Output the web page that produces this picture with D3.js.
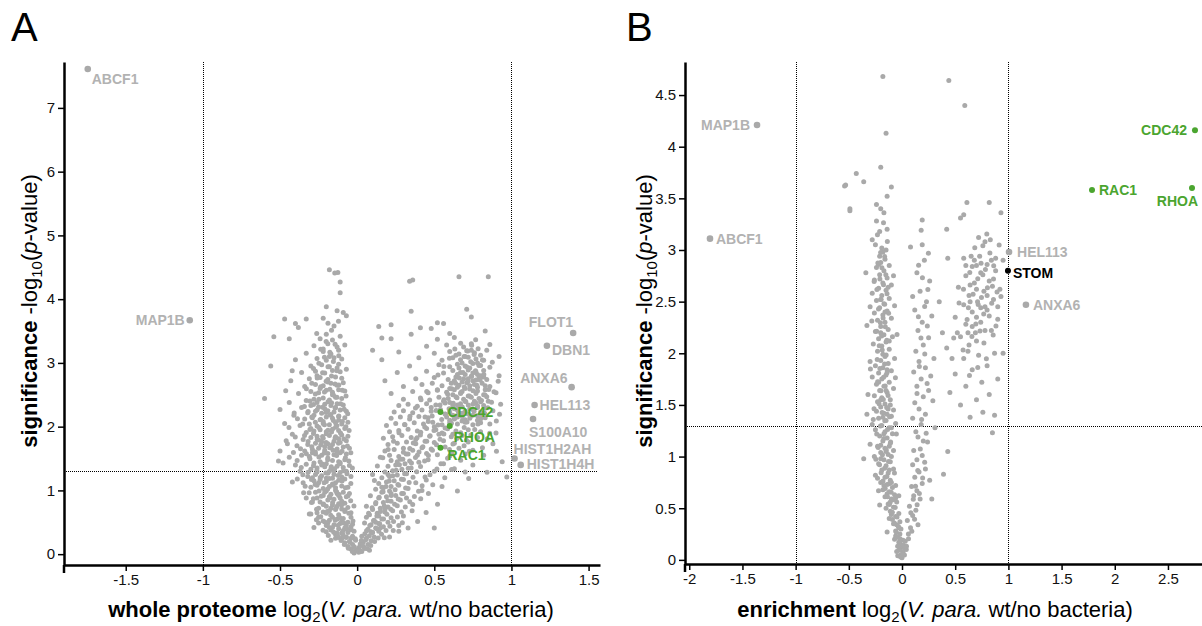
<!DOCTYPE html>
<html>
<head>
<meta charset="utf-8">
<script src="https://cdn.jsdelivr.net/npm/d3@7"></script>
<style>
  body { margin: 0; background: #fff; }
  svg text { font-family: "Liberation Sans", Arial, Helvetica, sans-serif; }
</style>
</head>
<body>
<svg id="chart" width="1202" height="626"></svg>
<script>
// ---------- thresholds ----------
const foldCut = [-1, 1];        // log2 fold change cut-offs
const pCut = 1.3;               // -log10(0.05)

// ---------- panel A: whole proteome (log2 FC, -log10 p) ----------
const proteomeLeft = [
  [-0.02,0.02],[0.0,0.05],[-0.04,0.08],[0.01,0.1],[-0.06,0.12],[-0.03,0.15],[0.02,0.16],[-0.08,0.18],[-0.05,0.2],[-0.01,0.22],
  [-0.1,0.24],[-0.07,0.27],[-0.03,0.28],[0.01,0.03],[-0.01,0.07],[-0.09,0.29],[-0.12,0.26],[-0.04,0.25],[-0.17,0.22],[-0.14,0.25],
  [-0.14,0.31],[-0.1,0.33],[-0.06,0.34],[-0.02,0.36],[-0.17,0.38],[-0.12,0.4],[-0.08,0.41],[-0.04,0.43],[-0.2,0.45],[-0.15,0.46],
  [-0.11,0.48],[-0.06,0.5],[-0.22,0.52],[-0.18,0.53],[-0.13,0.55],[-0.09,0.56],[-0.04,0.58],[-0.25,0.58],[-0.28,0.42],[-0.2,0.35],
  [-0.03,0.47],[-0.25,0.49],[-0.31,0.63],
  [-0.3,0.63],[-0.26,0.65],[-0.22,0.66],[-0.18,0.68],[-0.14,0.7],[-0.1,0.71],[-0.06,0.73],[-0.2,0.75],[-0.16,0.77],[-0.12,0.79],
  [-0.08,0.8],[-0.24,0.82],[-0.29,0.82],[-0.19,0.85],[-0.15,0.86],[-0.11,0.88],[-0.07,0.9],[-0.22,0.92],[-0.17,0.94],[-0.13,0.95],
  [-0.09,0.97],[-0.27,0.97],[-0.2,0.99],[-0.14,1.0],[-0.05,0.95],[-0.33,0.88],[-0.25,0.72],[-0.04,0.65],
  [-0.42,1.13],[-0.35,1.12],[-0.3,1.05],[-0.26,1.08],[-0.22,1.03],[-0.18,1.06],[-0.14,1.04],[-0.1,1.07],[-0.06,1.05],[-0.28,1.15],
  [-0.24,1.17],[-0.2,1.14],[-0.16,1.19],[-0.12,1.16],[-0.08,1.18],[-0.32,1.22],[-0.27,1.25],[-0.23,1.23],[-0.19,1.27],[-0.15,1.25],
  [-0.11,1.28],[-0.07,1.3],[-0.37,1.3],[-0.3,1.33],[-0.26,1.35],[-0.21,1.37],[-0.17,1.34],[-0.13,1.38],[-0.09,1.36],[-0.05,1.39],
  [-0.33,1.41],[-0.28,1.43],[-0.24,1.45],[-0.2,1.42],[-0.16,1.47],[-0.12,1.45],[-0.08,1.48],[-0.51,1.46],[-0.48,1.43],[-0.4,1.4],
  [-0.04,1.22],[-0.14,1.12],[-0.29,1.2],[-0.18,1.3],
  [-0.44,1.52],[-0.36,1.55],[-0.31,1.53],[-0.27,1.57],[-0.23,1.55],[-0.19,1.58],[-0.15,1.56],[-0.11,1.59],[-0.07,1.57],[-0.34,1.62],
  [-0.29,1.64],[-0.25,1.66],[-0.21,1.63],[-0.17,1.67],[-0.13,1.65],[-0.09,1.68],[-0.05,1.66],[-0.39,1.7],[-0.32,1.72],[-0.27,1.74],
  [-0.23,1.76],[-0.19,1.73],[-0.15,1.77],[-0.11,1.75],[-0.07,1.78],[-0.35,1.8],[-0.3,1.83],[-0.26,1.85],[-0.22,1.82],[-0.18,1.86],
  [-0.14,1.84],[-0.1,1.87],[-0.06,1.85],[-0.42,1.88],[-0.33,1.91],[-0.28,1.93],[-0.24,1.95],[-0.2,1.92],[-0.16,1.96],[-0.12,1.94],
  [-0.08,1.97],[-0.46,1.78],[-0.5,1.62],
  [-0.37,2.02],[-0.31,2.04],[-0.26,2.01],[-0.22,2.05],[-0.18,2.03],[-0.14,2.06],[-0.1,2.04],[-0.06,2.07],[-0.34,2.12],[-0.29,2.14],
  [-0.24,2.11],[-0.2,2.15],[-0.16,2.13],[-0.12,2.16],[-0.08,2.14],[-0.41,2.18],[-0.32,2.22],[-0.27,2.24],[-0.23,2.21],[-0.19,2.25],
  [-0.15,2.23],[-0.11,2.26],[-0.07,2.24],[-0.36,2.3],[-0.3,2.33],[-0.25,2.31],[-0.21,2.35],[-0.17,2.33],[-0.13,2.36],[-0.09,2.34],
  [-0.44,2.38],[-0.33,2.41],[-0.28,2.43],[-0.22,2.45],[-0.18,2.42],[-0.14,2.46],[-0.1,2.44],[-0.6,2.44],[-0.5,2.27],[-0.47,2.05],
  [-0.38,2.52],[-0.3,2.55],[-0.25,2.53],[-0.2,2.57],[-0.16,2.54],[-0.12,2.58],[-0.08,2.56],[-0.34,2.63],[-0.27,2.66],[-0.22,2.64],
  [-0.17,2.68],[-0.13,2.65],[-0.09,2.69],[-0.43,2.72],[-0.31,2.75],[-0.24,2.77],[-0.19,2.74],[-0.14,2.78],[-0.1,2.76],[-0.36,2.85],
  [-0.27,2.87],[-0.21,2.84],[-0.16,2.88],[-0.11,2.86],[-0.56,2.95],[-0.3,2.95],[-0.23,2.97],[-0.18,2.94],[-0.12,2.98],[-0.07,2.9],
  [-0.4,3.05],[-0.26,3.07],[-0.2,3.04],[-0.15,3.08],[-0.1,3.06],[-0.33,3.15],[-0.22,3.18],[-0.17,3.14],[-0.12,3.2],[-0.28,3.27],
  [-0.19,3.3],[-0.13,3.25],[-0.08,3.28],[-0.24,3.38],[-0.16,3.36],[-0.11,3.42],[-0.54,3.41],[-0.44,3.38],[-0.2,3.45],
  [-0.47,3.69],[-0.4,3.62],[-0.33,3.69],[-0.22,3.7],[-0.2,3.88],[-0.13,3.82],[-0.09,3.79],[-0.07,3.74],[-0.15,3.58],[-0.11,4.1],
  [-0.11,4.27],[-0.18,4.46],[-0.145,4.41],[-0.125,4.42]
];

const proteomeLeftCore = [
  [-0.13,0.33],[-0.09,0.37],[-0.16,0.42],[-0.07,0.45],[-0.19,0.49],[-0.1,0.52],[-0.16,0.58],[-0.12,0.62],[-0.2,0.64],[-0.08,0.67],
  [-0.17,0.72],[-0.13,0.75],[-0.22,0.78],[-0.1,0.83],[-0.18,0.9],[-0.26,0.88],[-0.12,0.92],[-0.21,0.97],[-0.16,1.1],[-0.25,1.12],
  [-0.2,1.19],[-0.1,1.21],[-0.26,1.29],[-0.15,1.31],[-0.23,1.4],[-0.11,1.42],[-0.19,1.51],[-0.29,1.59],[-0.13,1.61],[-0.21,1.69],
  [-0.16,1.72],[-0.25,1.79],[-0.12,1.81],[-0.2,1.89],[-0.3,1.97],[-0.14,1.99],[-0.22,2.08],[-0.12,2.1],[-0.28,2.18],[-0.17,2.19],
  [-0.21,2.28],[-0.14,2.3],[-0.26,2.38],[-0.16,2.5],[-0.24,2.6],[-0.19,2.7],[-0.26,2.8],[-0.13,2.92],[-0.18,3.1],[-0.22,3.22],
  [-0.031,0.043],[-0.057,0.091],[0.012,0.067],[-0.083,0.152],[-0.019,0.118],[-0.104,0.213],[-0.046,0.187],[-0.128,0.296],[-0.071,0.262],[-0.012,0.241],
  [-0.152,0.342],[-0.094,0.318],[-0.038,0.384],[-0.181,0.417],[-0.123,0.452],[-0.067,0.398],[-0.209,0.506],[-0.142,0.531],[-0.086,0.489],[-0.027,0.522],
  [-0.236,0.587],[-0.171,0.612],[-0.113,0.574],[-0.054,0.641],[-0.263,0.703],[-0.194,0.668],[-0.137,0.721],[-0.078,0.694],[-0.021,0.756],[-0.218,0.786],
  [-0.159,0.812],[-0.101,0.773],[-0.042,0.839],[-0.284,0.871],[-0.233,0.907],[-0.176,0.884],[-0.117,0.936],[-0.059,0.918],[-0.311,0.962],[-0.247,0.991],
  [-0.191,1.024],[-0.133,0.978],[-0.076,1.043],[-0.337,1.067],[-0.272,1.094],[-0.214,1.121],[-0.157,1.083],[-0.098,1.146],[-0.041,1.109],[-0.296,1.172],
  [-0.239,1.203],[-0.181,1.186],[-0.123,1.234],[-0.066,1.261],[-0.352,1.247],[-0.318,1.286],[-0.261,1.312],[-0.203,1.274],[-0.146,1.339],[-0.088,1.307],
  [-0.031,1.352],[-0.283,1.386],[-0.226,1.414],[-0.168,1.371],[-0.111,1.437],[-0.054,1.462],[-0.389,1.468],[-0.306,1.497],[-0.248,1.523],[-0.191,1.482],
  [-0.133,1.548],[-0.076,1.512],[-0.329,1.574],[-0.271,1.603],[-0.213,1.587],[-0.156,1.631],[-0.098,1.614],[-0.041,1.592],[-0.367,1.654],[-0.294,1.683],
  [-0.236,1.712],[-0.178,1.668],[-0.121,1.741],[-0.063,1.697],[-0.318,1.768],[-0.259,1.797],[-0.201,1.753],[-0.143,1.824],[-0.086,1.806],[-0.401,1.836],
  [-0.341,1.862],[-0.283,1.891],[-0.224,1.847],[-0.166,1.918],[-0.108,1.902],[-0.052,1.938],[-0.306,1.957],[-0.248,1.986],[-0.189,1.943],[-0.131,2.014],
  [-0.073,1.997],[-0.353,2.043],[-0.271,2.071],[-0.212,2.028],[-0.154,2.098],[-0.096,2.082],[-0.387,2.126],[-0.294,2.153],[-0.236,2.114],[-0.177,2.183],
  [-0.119,2.167],[-0.061,2.204],[-0.318,2.236],[-0.259,2.264],[-0.201,2.221],[-0.143,2.291],[-0.084,2.275],[-0.342,2.318],[-0.283,2.347],[-0.224,2.306],
  [-0.166,2.374],[-0.107,2.358],[-0.306,2.402],[-0.248,2.431],[-0.189,2.389],[-0.131,2.461],[-0.072,2.482],[-0.271,2.513],[-0.212,2.544],[-0.154,2.498],
  [-0.096,2.572],[-0.329,2.596],[-0.236,2.627],[-0.177,2.586],[-0.119,2.653],[-0.294,2.681],[-0.201,2.712],[-0.143,2.668],[-0.259,2.763],[-0.166,2.794],
  [-0.224,2.846],[-0.131,2.878],[-0.283,2.912],[-0.189,2.941],[-0.248,2.993],[-0.154,3.024],[-0.212,3.087],[-0.119,3.112],[-0.177,3.168],[-0.236,3.214],
  [-0.143,3.291],[-0.201,3.337],[-0.262,3.462],[-0.166,3.514],[-0.121,3.652],[-0.189,3.623],[-0.381,3.554],[-0.421,2.876],[-0.463,2.563],[-0.408,2.214],
  [-0.442,1.986],[-0.452,1.731],[-0.413,1.593],[-0.362,1.361],[-0.388,1.178],[-0.347,0.962],[-0.296,0.812],[-0.264,0.541],[-0.187,0.293],[-0.221,0.374]
];

const proteomeRight = [
  [0.03,0.04],[0.05,0.09],[0.02,0.13],[0.07,0.15],[0.04,0.19],[0.09,0.21],[0.06,0.25],[0.11,0.27],[0.03,0.28],[0.08,0.06],
  [0.21,0.27],[0.27,0.36],[0.33,0.41],[0.15,0.41],
  [0.05,0.32],[0.1,0.34],[0.14,0.36],[0.07,0.39],[0.12,0.41],[0.17,0.43],[0.09,0.46],[0.14,0.48],[0.2,0.5],[0.11,0.53],
  [0.16,0.55],[0.22,0.57],[0.27,0.45],[0.5,0.41],[0.3,0.6],[0.06,0.58],
  [0.08,0.62],[0.13,0.64],[0.18,0.66],[0.23,0.68],[0.1,0.7],[0.15,0.72],[0.2,0.74],[0.26,0.76],[0.12,0.79],[0.17,0.81],
  [0.22,0.83],[0.28,0.85],[0.32,0.88],[0.14,0.88],[0.19,0.9],[0.25,0.92],[0.3,0.95],[0.16,0.97],[0.21,0.99],[0.36,0.78],
  [0.42,1.0],[0.06,0.75],
  [0.12,1.02],[0.17,1.04],[0.22,1.06],[0.27,1.08],[0.33,1.03],[0.14,1.11],[0.19,1.13],[0.24,1.15],[0.3,1.17],[0.38,1.12],
  [0.16,1.2],[0.21,1.22],[0.26,1.24],[0.32,1.26],[0.44,1.21],[0.18,1.29],[0.23,1.31],[0.29,1.33],[0.35,1.35],[0.5,1.3],
  [0.2,1.38],[0.25,1.4],[0.31,1.42],[0.4,1.44],[0.56,1.42],[0.22,1.47],[0.28,1.49],[0.34,1.46],[0.46,1.48],[0.55,1.06],
  [0.65,0.99],[0.49,1.09],[0.94,1.45],[0.97,1.21],[0.7,1.29],[0.63,1.34],[0.75,1.4],[0.1,1.25],
  [0.15,1.52],[0.21,1.55],[0.27,1.53],[0.33,1.57],[0.39,1.55],[0.45,1.58],[0.52,1.56],[0.6,1.54],[0.7,1.57],[0.82,1.55],
  [0.18,1.62],[0.24,1.64],[0.3,1.66],[0.36,1.63],[0.42,1.67],[0.48,1.65],[0.57,1.68],[0.66,1.66],[0.75,1.63],[0.2,1.72],
  [0.26,1.74],[0.32,1.76],[0.38,1.73],[0.44,1.77],[0.5,1.75],[0.56,1.78],[0.63,1.74],[0.72,1.76],[0.88,1.73],[0.17,1.82],
  [0.23,1.84],[0.29,1.86],[0.35,1.83],[0.41,1.87],[0.47,1.85],[0.53,1.88],[0.61,1.84],[0.68,1.86],[0.78,1.83],[0.21,1.92],
  [0.27,1.94],[0.33,1.96],[0.39,1.93],[0.45,1.97],[0.51,1.95],[0.57,1.98],[0.64,1.93],[0.72,1.95],[0.8,1.92],[0.9,1.9],
  [0.19,2.02],[0.25,2.05],[0.31,2.03],[0.37,2.06],[0.43,2.04],[0.49,2.07],[0.55,2.03],[0.6,2.06],[0.65,2.04],[0.7,2.07],
  [0.75,2.03],[0.8,2.06],[0.86,2.04],[0.22,2.13],[0.28,2.15],[0.34,2.12],[0.4,2.16],[0.46,2.14],[0.58,2.15],[0.63,2.12],
  [0.68,2.16],[0.73,2.13],[0.78,2.17],[0.83,2.14],[0.24,2.23],[0.3,2.25],[0.36,2.22],[0.42,2.26],[0.48,2.24],[0.54,2.27],
  [0.6,2.23],[0.65,2.26],[0.7,2.24],[0.75,2.27],[0.8,2.23],[0.88,2.25],[0.27,2.33],[0.33,2.35],[0.39,2.32],[0.45,2.36],
  [0.51,2.34],[0.57,2.37],[0.62,2.33],[0.67,2.36],[0.72,2.34],[0.77,2.37],[0.82,2.33],[0.93,2.35],[0.3,2.43],[0.41,2.45],
  [0.47,2.42],[0.53,2.46],[0.59,2.44],[0.64,2.47],[0.69,2.43],[0.74,2.46],[0.79,2.44],[0.84,2.47],[0.62,2.18],[0.72,2.2],
  [0.66,2.3],[0.76,2.4],[0.68,2.09],[0.78,2.1],
  [0.22,2.52],[0.36,2.55],[0.46,2.53],[0.52,2.57],[0.58,2.54],[0.63,2.58],[0.68,2.55],[0.73,2.59],[0.78,2.56],[0.83,2.58],
  [0.9,2.53],[0.3,2.63],[0.42,2.66],[0.55,2.64],[0.61,2.68],[0.66,2.65],[0.71,2.69],[0.76,2.66],[0.81,2.68],[0.86,2.63],
  [0.18,2.72],[0.38,2.75],[0.5,2.77],[0.59,2.74],[0.64,2.78],[0.69,2.75],[0.74,2.79],[0.79,2.76],[0.84,2.74],[0.92,2.8],
  [0.26,2.85],[0.45,2.87],[0.56,2.84],[0.62,2.88],[0.67,2.85],[0.72,2.89],[0.77,2.86],[0.82,2.88],[0.34,2.95],[0.53,2.97],
  [0.6,2.94],[0.65,2.98],[0.7,2.95],[0.75,2.99],[0.8,2.96],[0.86,2.93],[0.7,2.6],[0.75,2.72],[0.66,2.92],[0.78,2.82],
  [0.16,3.05],[0.4,3.08],[0.55,3.04],[0.62,3.08],[0.67,3.05],[0.72,3.09],[0.77,3.06],[0.82,3.04],[0.92,3.1],[0.27,3.17],
  [0.5,3.15],[0.6,3.18],[0.66,3.14],[0.71,3.19],[0.76,3.16],[0.84,3.2],[0.45,3.26],[0.58,3.28],[0.69,3.25],[0.74,3.3],
  [0.86,3.29],[0.16,3.39],[0.22,3.38],[0.52,3.37],[0.63,3.4],[0.83,3.5],[0.35,3.45],[0.6,3.46],[0.1,3.2],
  [0.14,3.57],[0.22,3.6],[0.52,3.63],[0.48,3.54],[0.56,3.62],[0.35,3.81],[0.71,3.84],[0.74,3.72],[0.34,4.28],[0.36,4.3],
  [0.66,4.35],[0.85,4.35],[0.41,3.55]
];

const proteomeRightCore = [
  [0.6,2.1],[0.65,2.15],[0.7,2.11],[0.75,2.18],[0.8,2.2],[0.57,2.2],[0.63,2.28],[0.68,2.21],[0.73,2.28],[0.78,2.3],
  [0.83,2.29],[0.6,2.38],[0.65,2.34],[0.7,2.4],[0.75,2.35],[0.8,2.39],[0.85,2.4],[0.62,2.5],[0.67,2.52],[0.72,2.48],
  [0.77,2.52],[0.82,2.5],[0.6,2.6],[0.65,2.62],[0.73,2.64],[0.78,2.62],[0.83,2.64],[0.63,2.72],[0.68,2.7],[0.72,2.75],
  [0.77,2.73],[0.82,2.78],[0.65,2.82],[0.7,2.82],[0.75,2.84],[0.8,2.8],[0.68,3.0],[0.73,2.92],[0.78,3.0],[0.64,3.12],
  [0.7,3.1],[0.74,3.2],[0.8,3.12],[0.56,2.4],[0.52,2.58],[0.48,2.3],[0.44,2.15],[0.5,2.0],[0.55,1.9],[0.62,1.88],
  [0.38,1.8],[0.3,1.6],[0.26,1.45],[0.2,1.25],[0.16,1.05],[0.22,0.95],[0.18,0.7],[0.12,0.5],[0.09,0.35],[0.14,0.6],
  [0.021,0.052],[0.043,0.112],[0.067,0.083],[0.034,0.164],[0.088,0.137],[0.056,0.226],[0.113,0.198],[0.079,0.289],[0.136,0.254],[0.027,0.214],
  [0.098,0.341],[0.158,0.312],[0.061,0.367],[0.124,0.402],[0.187,0.373],[0.082,0.448],[0.146,0.476],[0.212,0.437],[0.106,0.523],[0.171,0.551],
  [0.236,0.512],[0.048,0.487],[0.128,0.598],[0.193,0.627],[0.261,0.584],[0.074,0.643],[0.151,0.671],[0.218,0.703],[0.287,0.662],[0.097,0.728],
  [0.176,0.756],[0.243,0.782],[0.312,0.741],[0.121,0.812],[0.198,0.839],[0.266,0.867],[0.341,0.823],[0.143,0.894],[0.221,0.921],[0.289,0.952],
  [0.371,0.906],[0.168,0.978],[0.246,1.012],[0.314,1.037],[0.398,0.986],[0.187,1.063],[0.264,1.091],[0.337,1.124],[0.421,1.072],[0.208,1.148],
  [0.287,1.176],[0.362,1.207],[0.448,1.163],[0.231,1.231],[0.308,1.262],[0.386,1.291],[0.472,1.247],[0.253,1.318],[0.331,1.347],[0.411,1.376],
  [0.517,1.334],[0.274,1.402],[0.352,1.431],[0.437,1.462],[0.543,1.418],[0.296,1.487],[0.378,1.516],[0.462,1.546],[0.586,1.503],[0.671,1.472],
  [0.318,1.572],[0.401,1.601],[0.488,1.631],[0.614,1.588],[0.727,1.614],[0.341,1.657],[0.426,1.686],[0.514,1.716],[0.598,1.642],[0.693,1.701],
  [0.812,1.668],[0.364,1.742],[0.451,1.771],[0.537,1.801],[0.621,1.728],[0.708,1.786],[0.843,1.812],[0.388,1.826],[0.473,1.857],[0.562,1.884],
  [0.646,1.813],[0.737,1.871],[0.859,1.898],[0.412,1.912],[0.498,1.941],[0.586,1.969],[0.671,1.904],[0.762,1.956],[0.438,1.996],[0.524,2.027],
  [0.611,2.054],[0.694,1.988],[0.783,2.041],[0.902,2.087],[0.461,2.082],[0.548,2.111],[0.633,2.139],[0.712,2.072],[0.803,2.127],[0.486,2.167],
  [0.573,2.196],[0.657,2.224],[0.734,2.158],[0.826,2.211],[0.512,2.253],[0.596,2.282],[0.681,2.309],[0.758,2.241],[0.847,2.296],[0.537,2.338],
  [0.623,2.367],[0.704,2.394],[0.781,2.326],[0.871,2.382],[0.563,2.424],[0.647,2.452],[0.728,2.479],[0.806,2.411],[0.587,2.508],[0.672,2.537],
  [0.751,2.564],[0.829,2.496],[0.613,2.594],[0.694,2.622],[0.776,2.648],[0.853,2.581],[0.638,2.679],[0.718,2.707],[0.797,2.733],[0.662,2.764],
  [0.742,2.792],[0.821,2.818],[0.686,2.849],[0.767,2.876],[0.711,2.934],[0.789,2.961],[0.736,3.019],[0.812,3.046],[0.693,3.102],[0.758,3.133],
  [0.717,3.187],[0.784,3.221],[0.742,3.276],[0.671,3.309],[0.768,3.362],[0.633,3.218],[0.598,3.074],[0.562,2.943],[0.524,2.812],[0.487,2.681],
  [0.451,2.553],[0.414,2.424],[0.378,2.293],[0.342,2.164],[0.307,2.032],[0.271,1.903],[0.236,1.771],[0.201,1.642],[0.166,1.513],[0.131,1.384],
  [0.112,1.156],[0.086,0.917],[0.923,2.196],[0.887,2.547],[0.914,2.713],[0.876,3.012],[0.903,1.614],[0.842,1.284],[0.568,1.197],[0.612,1.328],
  [0.723,1.187],[0.521,0.782],[0.447,0.653],[0.392,0.512],[0.356,0.681],[0.293,0.493],[0.234,0.372],[0.176,0.258],[0.412,0.871],[0.462,0.953]
];

const proteomeHits = [
  { name: "ABCF1",     fc: -1.746, p: 7.61, group: "grey" },
  { name: "MAP1B",     fc: -1.085, p: 3.67, group: "grey" },
  { name: "FLOT1",     fc: 1.40,   p: 3.47, group: "grey" },
  { name: "DBN1",      fc: 1.23,   p: 3.27, group: "grey" },
  { name: "ANXA6",     fc: 1.39,   p: 2.62, group: "grey" },
  { name: "HEL113",    fc: 1.15,   p: 2.34, group: "grey" },
  { name: "S100A10",   fc: 1.14,   p: 2.12, group: "grey" },
  { name: "HIST1H2AH", fc: 1.02,   p: 1.50, group: "grey" },
  { name: "HIST1H4H",  fc: 1.06,   p: 1.40, group: "grey" },
  { name: "CDC42",     fc: 0.54,   p: 2.23, group: "green" },
  { name: "RHOA",      fc: 0.60,   p: 2.01, group: "green" },
  { name: "RAC1",      fc: 0.54,   p: 1.67, group: "green" }
];

// ---------- panel B: enrichment (log2 FC, -log10 p) ----------
const enrichLeft = [
  [0.0,0.02],[-0.01,0.05],[0.01,0.08],[-0.02,0.11],[0.0,0.14],[-0.03,0.17],[0.01,0.19],[-0.04,0.22],[-0.02,0.25],[-0.06,0.28],
  [-0.03,0.31],[-0.05,0.34],[-0.02,0.37],[-0.09,0.39],[-0.06,0.42],[-0.03,0.45],[-0.11,0.47],[-0.14,0.27],[-0.07,0.2],[-0.04,0.04],
  [0.02,0.12],[-0.01,0.3],[-0.12,0.4],
  [-0.21,0.53],[-0.08,0.51],[-0.13,0.54],[-0.05,0.56],[-0.1,0.59],[-0.16,0.61],[-0.07,0.63],[-0.12,0.66],[-0.18,0.68],[-0.09,0.7],
  [-0.14,0.73],[-0.2,0.75],[-0.11,0.77],[-0.16,0.8],[-0.23,0.79],[-0.25,0.82],[-0.13,0.84],[-0.19,0.87],[-0.08,0.88],[-0.15,0.91],
  [-0.22,0.93],[-0.11,0.95],[-0.17,0.97],[-0.36,0.98],[-0.26,1.0],[-0.06,0.72],[-0.03,0.62],
  [-0.13,1.02],[-0.2,1.04],[-0.08,1.06],[-0.16,1.08],[-0.23,1.1],[-0.3,1.12],[-0.11,1.13],[-0.18,1.15],[-0.14,1.18],[-0.21,1.2],
  [-0.09,1.22],[-0.16,1.24],[-0.25,1.26],[-0.12,1.28],[-0.19,1.3],[-0.28,1.31],[-0.06,1.32],[-0.15,1.35],[-0.22,1.37],[-0.33,1.41],
  [-0.1,1.39],[-0.17,1.42],[-0.24,1.44],[-0.13,1.46],[-0.2,1.48],[-0.08,1.45],[-0.27,1.36],
  [-0.32,1.6],[-0.16,1.51],[-0.23,1.53],[-0.11,1.55],[-0.19,1.57],[-0.26,1.59],[-0.14,1.62],[-0.21,1.64],[-0.08,1.66],[-0.17,1.68],
  [-0.24,1.7],[-0.12,1.72],[-0.19,1.75],[-0.28,1.77],[-0.15,1.79],[-0.22,1.81],[-0.1,1.83],[-0.18,1.86],[-0.25,1.88],[-0.13,1.9],
  [-0.2,1.93],[-0.07,1.95],[-0.16,1.97],[-0.3,1.92],
  [-0.23,2.02],[-0.12,2.04],[-0.19,2.07],[-0.27,2.09],[-0.15,2.11],[-0.22,2.14],[-0.09,2.16],[-0.17,2.18],[-0.25,2.21],[-0.13,2.23],
  [-0.2,2.26],[-0.33,2.27],[-0.16,2.3],[-0.23,2.32],[-0.1,2.34],[-0.18,2.37],[-0.26,2.39],[-0.14,2.41],[-0.21,2.44],[-0.07,2.46],
  [-0.17,2.48],[-0.3,2.45],
  [-0.24,2.51],[-0.12,2.53],[-0.19,2.56],[-0.28,2.58],[-0.15,2.61],[-0.22,2.63],[-0.1,2.66],[-0.18,2.68],[-0.26,2.71],[-0.14,2.73],
  [-0.21,2.76],[-0.34,2.78],[-0.17,2.8],[-0.24,2.83],[-0.12,2.85],[-0.2,2.88],[-0.16,2.91],[-0.21,2.94],[-0.19,3.02],[-0.15,3.0],
  [-0.08,2.75],
  [-0.21,3.18],[-0.14,3.2],[-0.24,3.28],[-0.24,3.44],[-0.14,3.52],[-0.1,3.61],[-0.36,3.66],[-0.43,3.74],[-0.54,3.62],[-0.53,3.63],
  [-0.49,3.4],[-0.49,3.38],[-0.2,3.8],[-0.15,4.13],[-0.18,4.68],[-0.28,3.1],[-0.17,3.36],
  [-0.05,0.08],[-0.02,0.16],[-0.06,0.23],[-0.08,0.35],[-0.1,0.44],[-0.15,0.5],[-0.11,0.56],[-0.06,0.6],[-0.14,0.64],[-0.1,0.75],
  [-0.17,0.72],[-0.12,0.87],[-0.2,0.98],[-0.1,1.0],[-0.15,1.05],[-0.12,1.1],[-0.2,1.11],[-0.17,1.22],[-0.1,1.28],[-0.18,1.38],
  [-0.14,1.41],[-0.11,1.5],[-0.2,1.55],[-0.15,1.64],[-0.22,1.72],[-0.14,1.84],[-0.18,1.99],[-0.12,2.12],[-0.2,2.2],[-0.16,2.4],
  [-0.2,2.52],[-0.13,2.64],[-0.22,2.86],[-0.18,2.98],[-0.25,3.05],[-0.2,3.4],
  [-0.013,0.027],[0.008,0.062],[-0.027,0.093],[0.014,0.141],[-0.041,0.133],[-0.018,0.204],[-0.053,0.267],[-0.034,0.322],[-0.072,0.358],[-0.047,0.414],
  [-0.091,0.462],[-0.064,0.508],[-0.118,0.537],[-0.083,0.583],[-0.137,0.612],[-0.102,0.654],[-0.158,0.692],[-0.121,0.738],[-0.179,0.764],[-0.142,0.807],
  [-0.196,0.843],[-0.163,0.886],[-0.211,0.921],[-0.127,0.953],[-0.184,1.017],[-0.148,1.063],[-0.224,1.087],[-0.107,1.142],[-0.171,1.176],[-0.238,1.218],
  [-0.136,1.263],[-0.203,1.297],[-0.162,1.348],[-0.117,1.386],[-0.187,1.427],[-0.144,1.474],[-0.216,1.512],[-0.176,1.553],[-0.131,1.592],[-0.198,1.637],
  [-0.158,1.683],[-0.229,1.724],[-0.173,1.768],[-0.141,1.812],[-0.208,1.853],[-0.164,1.897],[-0.233,1.941],[-0.149,1.984],[-0.186,2.031],[-0.214,2.073],
  [-0.143,2.127],[-0.192,2.168],[-0.238,2.214],[-0.157,2.257],[-0.203,2.296],[-0.178,2.341],[-0.126,2.387],[-0.221,2.428],[-0.163,2.474],[-0.197,2.521],
  [-0.141,2.576],[-0.236,2.617],[-0.174,2.664],[-0.208,2.718],[-0.152,2.761],[-0.189,2.827],[-0.227,2.873],[-0.163,2.937],[-0.201,2.976],[-0.138,3.083],
  [-0.231,3.147],[-0.174,3.263],[-0.262,2.694],[-0.284,2.312],[-0.297,1.847],[-0.263,1.463],[-0.246,0.973],[-0.221,0.668],[-0.062,1.762],[-0.047,2.183],
  [-0.053,1.218],[-0.071,0.842]
];

const enrichRight = [
  [0.04,0.1],[0.03,0.18],[0.06,0.25],[0.08,0.31],[0.15,0.34],[0.05,0.38],[0.1,0.43],[0.13,0.48],[0.07,0.52],[0.17,0.59],
  [0.28,0.59],[0.11,0.62],[0.14,0.67],[0.09,0.71],[0.19,0.74],[0.26,0.77],[0.12,0.8],[0.16,0.85],[0.22,0.88],[0.39,0.83],
  [0.1,0.92],[0.14,0.97],[0.19,1.01],[0.43,1.05],[0.11,1.06],[0.2,1.15],[0.24,1.14],[0.15,1.19],[0.13,1.24],[0.31,1.28],
  [0.18,1.31],[0.22,1.41],[0.1,1.37],[0.16,1.46],[0.29,1.54],[0.12,1.52],[0.2,1.58],[0.25,1.64],[0.14,1.68],[0.18,1.75],
  [0.27,1.78],[0.11,1.82],[0.22,1.86],[0.16,1.92],[0.3,1.95],[0.13,2.02],[0.2,2.08],[0.25,2.15],[0.15,2.22],[0.19,2.3],
  [0.28,2.36],[0.12,2.42],[0.23,2.5],[0.17,2.6],[0.26,2.7],[0.14,2.78],[0.08,3.03],[0.19,3.05],[0.18,3.19],[0.19,3.29],
  [0.21,2.9],[0.1,2.55],
  [0.85,1.23],[0.76,1.43],[0.64,1.38],[0.55,1.5],[0.7,1.55],[0.82,1.6],[0.45,1.62],[0.6,1.68],[0.75,1.72],[0.9,1.75],
  [0.5,1.8],[0.66,1.84],[0.8,1.88],[0.58,1.95],[0.72,1.98],[0.87,2.0],[0.42,2.05],[0.63,2.08],[0.77,2.1],[0.55,2.16],
  [0.69,2.2],[0.84,2.22],[0.6,2.28],[0.74,2.3],[0.9,2.33],[0.5,2.35],[0.66,2.4],[0.8,2.42],[0.58,2.47],[0.71,2.5],
  [0.86,2.52],[0.63,2.56],[0.77,2.6],[0.92,2.62],[0.53,2.64],[0.68,2.68],[0.82,2.7],[0.6,2.75],[0.74,2.78],[0.88,2.8],
  [0.66,2.84],[0.8,2.86],[0.43,2.92],[0.58,2.92],[0.65,2.94],[0.73,2.94],[0.88,2.92],[0.78,3.08],[0.83,3.1],[0.72,3.12],
  [0.76,3.04],[0.42,3.2],[0.55,3.31],[0.58,3.34],[0.61,3.46],[0.82,3.46],[0.93,3.36],[0.44,4.64],[0.59,4.4],[0.35,2.5],
  [0.38,2.2],[0.47,1.95],[0.95,2.0],[0.93,2.55],[0.7,2.35],[0.85,2.65],[0.62,2.2],[0.78,2.45],[0.68,2.9],[0.52,2.2],
  [0.95,2.9],[0.87,1.4],
  [0.62,2.02],[0.7,2.12],[0.78,2.22],[0.66,2.26],[0.82,2.36],[0.74,2.44],[0.64,2.5],[0.8,2.56],[0.7,2.62],[0.86,2.72],
  [0.64,2.66],[0.76,2.76],[0.7,2.85],[0.84,2.9],[0.6,2.85],[0.9,2.45],
  [0.023,0.047],[0.042,0.131],[0.061,0.204],[0.092,0.276],[0.118,0.393],[0.083,0.457],[0.142,0.533],[0.106,0.587],[0.163,0.642],[0.127,0.713],
  [0.194,0.792],[0.148,0.864],[0.213,0.946],[0.172,1.074],[0.227,1.226],[0.184,1.358],[0.141,1.611],[0.236,1.707],[0.163,1.873],[0.214,1.994],
  [0.178,2.147],[0.238,2.263],[0.154,2.354],[0.213,2.452],[0.243,2.617],[0.192,2.731],[0.156,2.853],[0.248,2.968],
  [0.634,1.786],[0.712,1.863],[0.574,2.032],[0.793,1.947],[0.657,2.163],[0.733,2.216],[0.857,2.176],[0.612,2.327],[0.694,2.283],[0.768,2.381],
  [0.883,2.263],[0.624,2.441],[0.716,2.472],[0.843,2.484],[0.668,2.571],[0.747,2.541],[0.893,2.593],[0.578,2.621],[0.803,2.634],[0.712,2.721],
  [0.637,2.781],[0.784,2.812],[0.862,2.847],[0.743,2.872],[0.826,2.971],[0.684,3.021],[0.797,3.154],[0.913,3.048],[0.536,2.487],[0.486,2.147]
];

const enrichHits = [
  { name: "MAP1B",  fc: -1.363, p: 4.21, group: "grey" },
  { name: "ABCF1",  fc: -1.805, p: 3.11, group: "grey" },
  { name: "CDC42",  fc: 2.754,  p: 4.16, group: "green" },
  { name: "RAC1",   fc: 1.786,  p: 3.58, group: "green" },
  { name: "RHOA",   fc: 2.726,  p: 3.60, group: "green" },
  { name: "HEL113", fc: 1.006,  p: 2.98, group: "grey" },
  { name: "STOM",   fc: 0.996,  p: 2.80, group: "black" },
  { name: "ANXA6",  fc: 1.165,  p: 2.47, group: "grey" }
];

// ---------- axis ticks ----------
const proteomeXTicks = [-1.5, -1, -0.5, 0, 0.5, 1, 1.5];
const proteomeYTicks = [0, 1, 2, 3, 4, 5, 6, 7];
const enrichXTicks = [-2, -1.5, -1, -0.5, 0, 0.5, 1, 1.5, 2, 2.5];
const enrichYTicks = [0, 0.5, 1, 1.5, 2, 2.5, 3, 3.5, 4, 4.5];

// ---------- styling ----------
const pointFill = "#a9a9a9";
const hitFill = { grey: "#a9a9a9", green: "#4ba52f", black: "#000000" };
const hitText = { grey: "#b2b2b2", green: "#4ba52f", black: "#000000" };

// label offsets [dx, dy, anchor] relative to each marker
const labelLayout = {
  proteome: {
    ABCF1: [4, 10, "start"], MAP1B: [-5, 0, "end"], FLOT1: [0, -11, "end"], DBN1: [5, 4, "start"],
    ANXA6: [-4, -9, "end"], HEL113: [5, 0, "start"], S100A10: [-4, 13, "start"],
    HIST1H2AH: [-1, -10, "start"], HIST1H4H: [6, -1, "start"],
    CDC42: [7, 0, "start"], RHOA: [4, 11, "start"], RAC1: [7, 7, "start"]
  },
  enrichment: {
    MAP1B: [-7, 0, "end"], ABCF1: [6, 0, "start"], CDC42: [-8, 0, "end"], RAC1: [7, 0, "start"],
    RHOA: [6, 13, "end"], HEL113: [8, 0, "start"], STOM: [5, 2, "start"], ANXA6: [7, 0, "start"]
  }
};

const svg = d3.select("#chart");

function drawPanel(cfg) {
  const g = svg.append("g");
  const x = d3.scaleLinear().domain(cfg.xDomain).range(cfg.xRange);
  const y = d3.scaleLinear().domain(cfg.yDomain).range(cfg.yRange);
  const [left, right] = cfg.xRange;
  const [bottom, top] = cfg.yRange;

  // threshold guides (dotted)
  const guides = g.append("g")
    .attr("stroke", "#000").attr("stroke-width", 1)
    .attr("stroke-dasharray", "1,1").attr("shape-rendering", "crispEdges");
  guides.selectAll("line.vcut").data(foldCut).join("line")
    .attr("x1", d => Math.round(x(d)) + 0.5).attr("x2", d => Math.round(x(d)) + 0.5)
    .attr("y1", top).attr("y2", bottom);
  guides.append("line")
    .attr("x1", left).attr("x2", cfg.hLineEnd)
    .attr("y1", Math.round(y(pCut)) + 0.5).attr("y2", Math.round(y(pCut)) + 0.5);

  // all proteins
  g.append("g").selectAll("circle").data(cfg.points).join("circle")
    .attr("cx", d => x(d[0])).attr("cy", d => y(d[1]))
    .attr("r", 2.5).attr("fill", pointFill);

  // highlighted proteins
  const hits = g.append("g").selectAll("g").data(cfg.hits).join("g");
  hits.append("circle")
    .attr("cx", d => x(d.fc)).attr("cy", d => y(d.p))
    .attr("r", d => d.group === "grey" ? 3.3 : 3)
    .attr("fill", d => hitFill[d.group]);
  hits.append("text")
    .attr("x", d => x(d.fc) + cfg.layout[d.name][0])
    .attr("y", d => y(d.p) + cfg.layout[d.name][1])
    .attr("text-anchor", d => cfg.layout[d.name][2])
    .attr("dominant-baseline", "central")
    .attr("font-size", 14).attr("font-weight", "bold")
    .attr("fill", d => hitText[d.group])
    .text(d => d.name);

  // axes
  const fmt = d => String(d);
  const xAxis = g.append("g").attr("transform", `translate(0,${bottom})`)
    .call(d3.axisBottom(x).tickValues(cfg.xTicks).tickFormat(fmt).tickSize(6).tickSizeOuter(0).tickPadding(3));
  const yAxis = g.append("g").attr("transform", `translate(${left},0)`)
    .call(d3.axisLeft(y).tickValues(cfg.yTicks).tickFormat(fmt).tickSize(6).tickSizeOuter(0).tickPadding(3));
  [xAxis, yAxis].forEach(a => {
    a.select(".domain").attr("stroke", "#000").attr("stroke-width", 2.5);
    a.selectAll(".tick line").attr("stroke", "#000").attr("stroke-width", 1.5);
    a.selectAll(".tick text").attr("font-size", 15).attr("fill", "#111")
      .attr("font-family", "'Liberation Sans', Arial, sans-serif");
  });
  // y axis line runs a little past the x axis
  g.append("line").attr("x1", left).attr("x2", left).attr("y1", bottom).attr("y2", bottom + 8)
    .attr("stroke", "#000").attr("stroke-width", 2.5);

  // panel letter
  g.append("text").attr("x", cfg.letterX).attr("y", 41)
    .attr("font-size", 40).attr("fill", "#000").text(cfg.letter);

  // x title
  const xt = g.append("text").attr("x", cfg.xTitleX).attr("y", 617)
    .attr("text-anchor", "middle").attr("font-size", 22).attr("fill", "#000");
  xt.append("tspan").attr("font-weight", "bold").text(cfg.xTitleBold);
  xt.append("tspan").text(" log");
  xt.append("tspan").attr("font-size", 15).attr("dy", 5).text("2");
  xt.append("tspan").attr("dy", -5).text("(");
  xt.append("tspan").attr("font-style", "italic").text("V. para.");
  xt.append("tspan").text(" wt/no bacteria)");

  // y title
  const yt = g.append("text")
    .attr("transform", `translate(${cfg.yTitleX},311) rotate(-90)`)
    .attr("text-anchor", "middle").attr("font-size", 22).attr("fill", "#000");
  yt.append("tspan").attr("font-weight", "bold").text("significance");
  yt.append("tspan").text(" -log");
  yt.append("tspan").attr("font-size", 15).attr("dy", 5).text("10");
  yt.append("tspan").attr("dy", -5).text("(");
  yt.append("tspan").attr("font-style", "italic").text("p");
  yt.append("tspan").text("-value)");
}

drawPanel({
  letter: "A", letterX: 11,
  xDomain: [-1.9, 1.574], xRange: [64, 600],
  yDomain: [-0.17, 7.72], yRange: [565, 62],
  hLineEnd: 598,
  points: proteomeLeft.concat(proteomeLeftCore, proteomeRight, proteomeRightCore),
  hits: proteomeHits, layout: labelLayout.proteome,
  xTicks: proteomeXTicks, yTicks: proteomeYTicks,
  xTitleBold: "whole proteome", xTitleX: 331, yTitleX: 37
});

drawPanel({
  letter: "B", letterX: 626,
  xDomain: [-2.04, 2.82], xRange: [685, 1202],
  yDomain: [-0.04, 4.82], yRange: [564, 62],
  hLineEnd: 1202,
  points: enrichLeft.concat(enrichRight),
  hits: enrichHits, layout: labelLayout.enrichment,
  xTicks: enrichXTicks, yTicks: enrichYTicks,
  xTitleBold: "enrichment", xTitleX: 935, yTitleX: 652
});
</script>
</body>
</html>
